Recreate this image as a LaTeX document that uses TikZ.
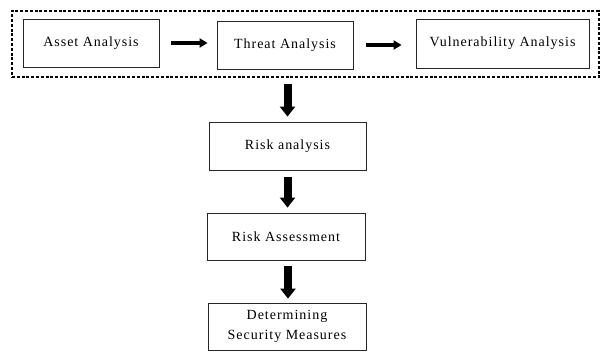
\documentclass[tikz,border=0pt]{standalone}
\usepackage{fontspec}
\setmainfont{Liberation Serif}[LetterSpace=7]
\usetikzlibrary{arrows.meta}
\begin{document}
\begin{tikzpicture}[x=1pt,y=-1pt,
  box/.style={draw=black!85, line width=0.8pt, inner sep=0pt, align=center,
    font=\fontsize{14}{20}\selectfont},
  harrow/.style={line width=4.5pt, -{Triangle[width=9pt,length=8pt]}},
  varrow/.style={line width=8pt, -{Triangle[width=15pt,length=10pt]}}]
\useasboundingbox (0,0) rectangle (603,352);
\node[draw=black, line width=1.4pt, dash pattern=on 3pt off 1.8pt,
  minimum width=587pt, minimum height=66pt, inner sep=0pt] (group) at (305.5,44) {};
\node[box, minimum width=136pt, minimum height=48pt] (asset) at (91,43) {Asset Analysis};
\node[box, minimum width=136pt, minimum height=48pt] (threat) at (285,45) {Threat Analysis};
\node[box, minimum width=173pt, minimum height=49pt] (vuln) at (502.5,43.5) {Vulnerability Analysis};
\node[box, minimum width=157pt, minimum height=48pt] (risk) at (287.5,146) {Risk analysis};
\node[box, minimum width=158pt, minimum height=47pt] (assess) at (286,236.5) {Risk Assessment};
\node[box, minimum width=158pt, minimum height=47pt] (determ) at (287,326.5) {Determining\\Security Measures};
\draw[harrow, shorten <=12pt, shorten >=9pt] (asset.east) -- (asset.east -| threat.west);
\draw[harrow, shorten <=13pt, shorten >=14pt] (threat.east) -- (threat.east -| vuln.west);
\draw[varrow, shorten <=6pt, shorten >=5pt] (group.south -| risk.north) -- (risk.north);
\draw[varrow, shorten <=7pt, shorten >=5pt] (risk.south) -- (risk.south |- assess.north);
\draw[varrow, shorten <=6pt, shorten >=4pt] ([xshift=2pt]assess.south) -- ([xshift=2pt]assess.south |- determ.north);
\end{tikzpicture}
\end{document}
